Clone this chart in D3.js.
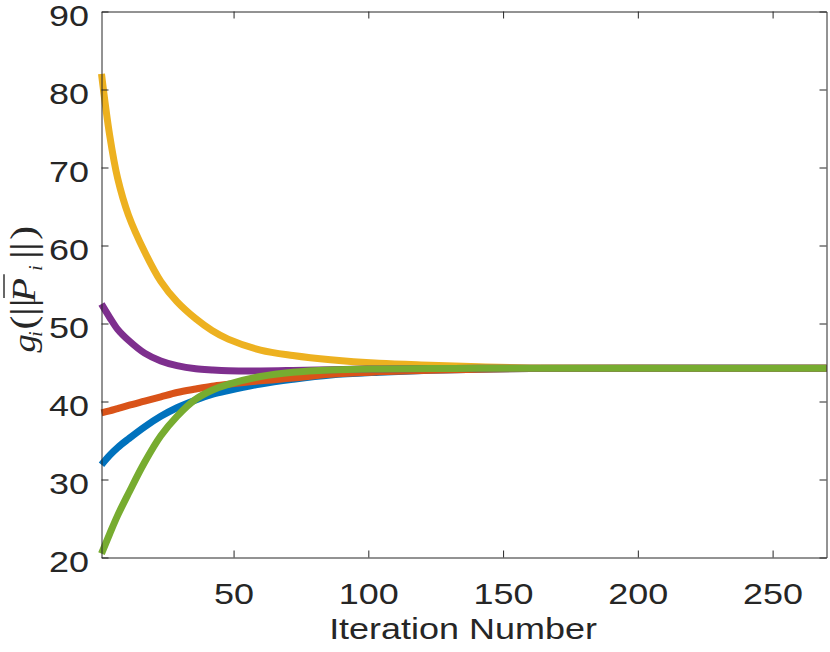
<!DOCTYPE html>
<html>
<head>
<meta charset="utf-8">
<script src="https://d3js.org/d3.v7.min.js"></script>
<style>
  body { margin: 0; background: white; }
  .axis path, .axis line { stroke: #262626; stroke-width: 1; }
  .axis text { fill: #262626; font-family: "Liberation Sans", Arial, sans-serif; font-size: 29px; }
</style>
</head>
<body>
<svg id="chart" width="830" height="652"></svg>
<script>
const iters = [1, 4, 7, 11, 17, 23, 29, 36, 42, 48, 60, 72, 86, 104, 123, 141, 160, 200, 270];

const blueVals   = [31.9, 33.1, 34.1, 35.2, 36.75, 38.1, 39.2, 40.2, 40.9, 41.4, 42.25, 42.85, 43.4, 43.75, 44.0, 44.15, 44.22, 44.25, 44.25];
const orangeVals = [38.55, 38.8, 39.1, 39.5, 40.05, 40.6, 41.15, 41.6, 41.95, 42.2, 42.65, 43.0, 43.5, 43.8, 44.0, 44.15, 44.22, 44.25, 44.25];
const yellowVals = [82.0, 74.2, 68.6, 63.9, 59.2, 55.4, 52.8, 50.6, 49.1, 48.0, 46.6, 45.9, 45.35, 44.9, 44.65, 44.45, 44.3, 44.25, 44.25];
const purpleVals = [52.5, 50.8, 49.25, 47.85, 46.2, 45.2, 44.6, 44.2, 44.05, 43.95, 43.92, 43.98, 44.08, 44.17, 44.22, 44.25, 44.25, 44.25, 44.25];
const greenVals  = [20.5, 23.0, 25.4, 28.2, 32.2, 35.6, 38.1, 40.3, 41.45, 42.2, 43.2, 43.75, 44.05, 44.18, 44.23, 44.25, 44.25, 44.25, 44.25];

const seriesColors = ["#0072BD", "#D95319", "#EDB120", "#7E2F8E", "#77AC30"];
const xTicks = [50, 100, 150, 200, 250];
const yTicks = [20, 30, 40, 50, 60, 70, 80, 90];

const svg = d3.select("#chart");
const plotL = 101.5, plotR = 826.5, plotT = 11.5, plotB = 557.5;
const sx = 1.24; // text in the reference is stretched horizontally

const x = d3.scaleLinear().domain([1, 270]).range([plotL, plotR]);
const y = d3.scaleLinear().domain([20, 90]).range([plotB, plotT]);

// lines, plotted in the default order
const line = d3.line()
  .x(d => x(d[0]))
  .y(d => y(d[1]))
  .curve(d3.curveCatmullRom.alpha(0.5));

[blueVals, orangeVals, yellowVals, purpleVals, greenVals].forEach((vals, i) => {
  svg.append("path")
    .datum(iters.map((it, j) => [it, vals[j]]))
    .attr("d", line)
    .attr("fill", "none")
    .attr("stroke", seriesColors[i])
    .attr("stroke-width", 7)
    .attr("stroke-linejoin", "round");
});

// axes (box with inward ticks on all sides)
const gx = svg.append("g").attr("class", "axis")
  .attr("transform", `translate(0,${plotB})`)
  .call(d3.axisBottom(x).tickValues(xTicks).tickSizeInner(-7).tickSizeOuter(0).tickPadding(26));
gx.selectAll("text").attr("transform", `scale(${sx},1)`);

const gy = svg.append("g").attr("class", "axis")
  .attr("transform", `translate(${plotL},0)`)
  .call(d3.axisLeft(y).tickValues(yTicks).tickSizeInner(-7).tickSizeOuter(0));
gy.selectAll("text")
  .attr("x", -12.4 / sx)
  .attr("dy", "0.47em")
  .attr("transform", `scale(${sx},1)`);

svg.append("g").attr("class", "axis")
  .attr("transform", `translate(0,${plotT})`)
  .call(d3.axisTop(x).tickValues(xTicks).tickSizeInner(-7).tickSizeOuter(0).tickFormat(""));

svg.append("g").attr("class", "axis")
  .attr("transform", `translate(${plotR},0)`)
  .call(d3.axisRight(y).tickValues(yTicks).tickSizeInner(-7).tickSizeOuter(0).tickFormat(""));

// x label
svg.append("text")
  .attr("transform", `translate(463,639) scale(${sx},1)`)
  .attr("text-anchor", "middle")
  .attr("font-family", "Liberation Sans, Arial, sans-serif")
  .attr("font-size", 29)
  .attr("fill", "#262626")
  .text("Iteration Number");

// y label: g_i(||P̄_i||)
const yl = svg.append("g")
  .attr("transform", "translate(35,287) scale(1,1.15) rotate(-90)")
  .attr("font-family", "Liberation Serif, Times New Roman, serif")
  .attr("fill", "#262626");

const glyphs = [
  {t: "g", x: -57, y: 0, size: 32, italic: true},
  {t: "i", x: -43.5, y: 7, size: 18, italic: true},
  {t: "(", x: -37, y: 0, size: 36},
  {t: "|", x: -25, y: 0, size: 36},
  {t: "|", x: -17.5, y: 0, size: 36},
  {t: "P", x: -13, y: 0, size: 34, italic: true},
  {t: "i", x: 14, y: 7, size: 18, italic: true},
  {t: "|", x: 24.5, y: 0, size: 36},
  {t: "|", x: 31.5, y: 0, size: 36},
  {t: ")", x: 41, y: 0, size: 36}
];
glyphs.forEach(g => {
  yl.append("text")
    .attr("x", g.x).attr("y", g.y)
    .attr("font-size", g.size)
    .attr("font-style", g.italic ? "italic" : "normal")
    .text(g.t);
});
yl.append("line")
  .attr("x1", -9.5).attr("x2", 11)
  .attr("y1", -31).attr("y2", -31)
  .attr("stroke", "#262626").attr("stroke-width", 1.4);
</script>
</body>
</html>
